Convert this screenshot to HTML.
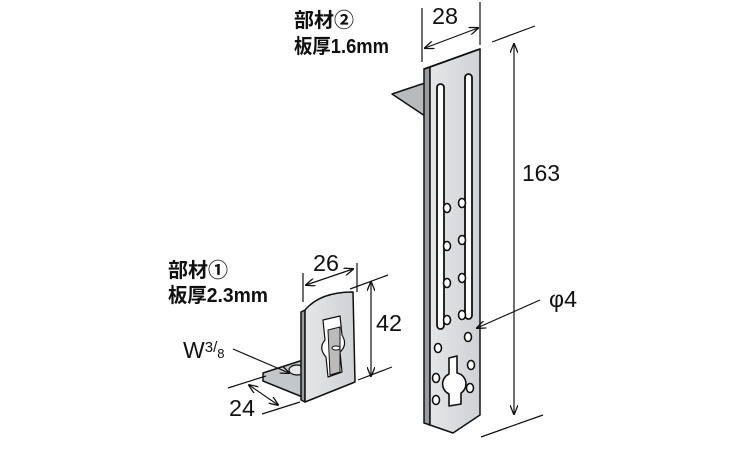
<!DOCTYPE html>
<html><head><meta charset="utf-8"><style>
html,body{margin:0;padding:0;background:#fff;}
svg{display:block;}
text{font-family:"Liberation Sans","Noto Sans CJK JP",sans-serif;fill:#111;}
</style></head><body>
<svg width="750" height="450" viewBox="0 0 750 450" xmlns="http://www.w3.org/2000/svg">
<defs>
<marker id="a" markerWidth="10" markerHeight="8" refX="9" refY="4" orient="auto-start-reverse" markerUnits="userSpaceOnUse">
<path d="M0,0 L10,4 L0,8" fill="none" stroke="#111" stroke-width="1.3"/></marker>
<linearGradient id="g" x1="0" x2="1"><stop offset="0" stop-color="#e4e6e8"/><stop offset="1" stop-color="#cfd2d5"/></linearGradient>
</defs>
<g stroke="#111" stroke-width="1.5" stroke-linejoin="round">
<polygon points="392,94 425,83 425,116" fill="#b8bbbe"/>
<polygon points="424,69 430,67 430,425 424,423" fill="#9a9da0"/>
<polygon points="430,67 480,49 480,415 453,433 430,425" fill="url(#g)"/>
<polygon points="424,69 474,51 480,49 430,67" fill="#d8dadc"/>
<rect x="437" y="84" width="7" height="245" rx="3.5" fill="#fff" stroke-width="1.8"/>
<rect x="465" y="74" width="7" height="245" rx="3.5" fill="#fff" stroke-width="1.8"/>
<g fill="#fff" stroke-width="1.6">
<ellipse cx="447" cy="208" rx="3.5" ry="4.5"/><ellipse cx="447" cy="246" rx="3.5" ry="4.5"/>
<ellipse cx="447" cy="283" rx="3.5" ry="4.5"/><ellipse cx="447" cy="320" rx="3.5" ry="4.5"/>
<ellipse cx="462" cy="203" rx="3.5" ry="4.5"/><ellipse cx="462" cy="240" rx="3.5" ry="4.5"/>
<ellipse cx="462" cy="278" rx="3.5" ry="4.5"/><ellipse cx="462" cy="315" rx="3.5" ry="4.5"/>
<ellipse cx="468" cy="337" rx="3.5" ry="4.5"/><ellipse cx="438" cy="348" rx="3.5" ry="4.5"/>
<ellipse cx="471" cy="365" rx="3.5" ry="4.5"/><ellipse cx="436" cy="378" rx="3.5" ry="4.5"/>
<ellipse cx="470" cy="388" rx="3.5" ry="4.5"/><ellipse cx="436" cy="400" rx="3.5" ry="4.5"/>
<path d="M449,358 L457,356 L457,373 A11,11 0 0 1 461,393 L461,404 L449,406 L449,394 A11,11 0 0 1 449,374 Z"/>
</g>
<polygon points="263,373 300,361 305,362 305,398 263,381" fill="#c4c7ca"/>
<ellipse cx="297" cy="370" rx="8" ry="5" fill="#e8e8e8" stroke-width="1.2"/>
<polygon points="301,312 305,310 305,402 301,400" fill="#9a9da0"/>
<path d="M305,310 Q320,292 353,292 L355,382 L305,402 Z" fill="url(#g)"/>
<path d="M323,320 L340,316 L342,335 Q348,345 340,352 L342,372 L328,377 L326,357 Q318,348 325,340 Z" fill="#fff" stroke-width="1.2"/>
<path d="M328,330 L340,327 L340,372 L330,375 Z" fill="#bbb" stroke-width="1"/>
<ellipse cx="336" cy="348" rx="4" ry="2" fill="#fff" stroke-width="1"/>
</g>
<g stroke="#111" stroke-width="1.2" fill="none">
<line x1="422" y1="62" x2="422" y2="8"/>
<line x1="480" y1="45" x2="480" y2="2"/>
<line x1="425" y1="48" x2="478" y2="28" marker-start="url(#a)" marker-end="url(#a)"/>
<line x1="492" y1="42" x2="535" y2="26"/>
<line x1="481" y1="437" x2="543" y2="415"/>
<line x1="514" y1="44" x2="514" y2="414" marker-start="url(#a)" marker-end="url(#a)"/>
<line x1="540" y1="300" x2="477" y2="328" marker-end="url(#a)"/>
<line x1="303" y1="302" x2="303" y2="273"/>
<line x1="357" y1="292" x2="357" y2="263"/>
<line x1="306" y1="285" x2="353" y2="269" marker-start="url(#a)" marker-end="url(#a)"/>
<line x1="350" y1="289" x2="388" y2="275"/>
<line x1="358" y1="380" x2="392" y2="367"/>
<line x1="371" y1="282" x2="371" y2="376" marker-start="url(#a)" marker-end="url(#a)"/>
<line x1="228" y1="388" x2="266" y2="376"/>
<line x1="262" y1="414" x2="300" y2="402"/>
<line x1="249" y1="385" x2="278" y2="405" marker-start="url(#a)" marker-end="url(#a)"/>
<line x1="233" y1="349" x2="289" y2="373" marker-end="url(#a)"/>
</g>
<g font-size="23">
<text x="432" y="24" textLength="26" lengthAdjust="spacingAndGlyphs">28</text>
<text x="522" y="181" textLength="38" lengthAdjust="spacingAndGlyphs">163</text>
<text x="549" y="307" textLength="28" lengthAdjust="spacingAndGlyphs">φ4</text>
<text x="313" y="271" textLength="26" lengthAdjust="spacingAndGlyphs">26</text>
<text x="376" y="331" textLength="26" lengthAdjust="spacingAndGlyphs">42</text>
<text x="229" y="416" textLength="26" lengthAdjust="spacingAndGlyphs">24</text>
<text x="183" y="358">W<tspan font-size="15" dy="-6">3</tspan><tspan font-size="15">/</tspan><tspan font-size="13" dy="6">8</tspan></text>
</g>
<g font-size="20" font-weight="bold">
<text x="294" y="27">部材②</text>
<text x="294" y="53" textLength="95" lengthAdjust="spacingAndGlyphs">板厚1.6mm</text>
<text x="168" y="277">部材①</text>
<text x="168" y="302" textLength="100" lengthAdjust="spacingAndGlyphs">板厚2.3mm</text>
</g>
</svg>
</body></html>
